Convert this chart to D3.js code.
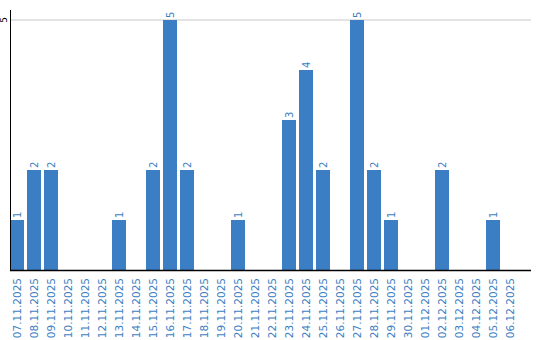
<!DOCTYPE html>
<html>
<head>
<meta charset="utf-8">
<script src="https://cdn.jsdelivr.net/npm/d3@7"></script>
<style>
  body { margin: 0; background: #fff; }
  text { font-family: "DejaVu Sans", sans-serif; }
</style>
</head>
<body>
<div id="chart"></div>
<script>
const dates = ["07.11.2025","08.11.2025","09.11.2025","10.11.2025","11.11.2025","12.11.2025",
  "13.11.2025","14.11.2025","15.11.2025","16.11.2025","17.11.2025","18.11.2025","19.11.2025",
  "20.11.2025","21.11.2025","22.11.2025","23.11.2025","24.11.2025","25.11.2025","26.11.2025",
  "27.11.2025","28.11.2025","29.11.2025","30.11.2025","01.12.2025","02.12.2025","03.12.2025",
  "04.12.2025","05.12.2025","06.12.2025"]
const counts = [1,2,2,0,0,0,1,0,2,5,2,0,0,1,0,0,3,4,2,0,5,2,1,0,0,2,0,0,1,0]
const yTicks = [5]

const width = 540
const height = 340
const margin = {top: 10, right: 9, bottom: 70, left: 10}
const plotRight = 517
const blue = "#3b7ec3"

const svg = d3.select("#chart")
  .append("svg")
  .attr("width", width)
  .attr("height", height)

const x = d3.scaleBand()
  .domain(dates)
  .range([margin.left, plotRight])
  .paddingInner(3 / 17)
  .paddingOuter(0)

const y = d3.scaleLinear()
  .domain([0, 5.2])
  .range([height - margin.bottom, margin.top])

// grid
svg.append("g")
  .selectAll("line")
  .data(yTicks)
  .join("line")
  .attr("x1", margin.left)
  .attr("x2", width - margin.right)
  .attr("y1", d => y(d))
  .attr("y2", d => y(d))
  .attr("stroke", "#c8c8c8")
  .attr("stroke-width", 1)

// bars
svg.append("g")
  .selectAll("rect")
  .data(counts)
  .join("rect")
  .attr("x", (d, i) => x(dates[i]))
  .attr("y", d => y(d))
  .attr("width", x.bandwidth())
  .attr("height", d => y(0) - y(d))
  .attr("fill", blue)

// value labels
svg.append("g")
  .selectAll("text")
  .data(counts.map((v, i) => ({v, d: dates[i]})).filter(o => o.v > 0))
  .join("text")
  .attr("transform", o => `translate(${x(o.d) + x.bandwidth() / 2},${y(o.v) - 2}) rotate(-90)`)
  .attr("dy", "0.35em")
  .attr("text-anchor", "start")
  .attr("font-size", 10)
  .attr("fill", blue)
  .text(o => o.v)

// y axis
svg.append("line")
  .attr("x1", margin.left + 0.5).attr("x2", margin.left + 0.5)
  .attr("y1", margin.top).attr("y2", y(0))
  .attr("stroke", "#000")

svg.append("g")
  .selectAll("text")
  .data(yTicks)
  .join("text")
  .attr("transform", d => `translate(${margin.left - 6},${y(d)}) rotate(-90)`)
  .attr("dy", "0.35em")
  .attr("text-anchor", "middle")
  .attr("font-size", 9)
  .attr("fill", "#000")
  .text(d => d)

// x axis
const xAxis = svg.append("g")
  .attr("transform", `translate(0,${y(0)})`)
  .call(d3.axisBottom(x).tickSize(0).tickPadding(0))

xAxis.select(".domain")
  .attr("d", `M${margin.left},0.5H${width - margin.right}`)
  .attr("stroke", "#000")
  .attr("stroke-width", 1.5)

xAxis.selectAll("text")
  .attr("transform", "rotate(-90)")
  .attr("x", -8)
  .attr("y", 0)
  .attr("dy", "0.35em")
  .attr("text-anchor", "end")
  .attr("font-size", 10.5)
  .attr("font-family", "DejaVu Sans, sans-serif")
  .attr("fill", blue)
</script>
</body>
</html>
